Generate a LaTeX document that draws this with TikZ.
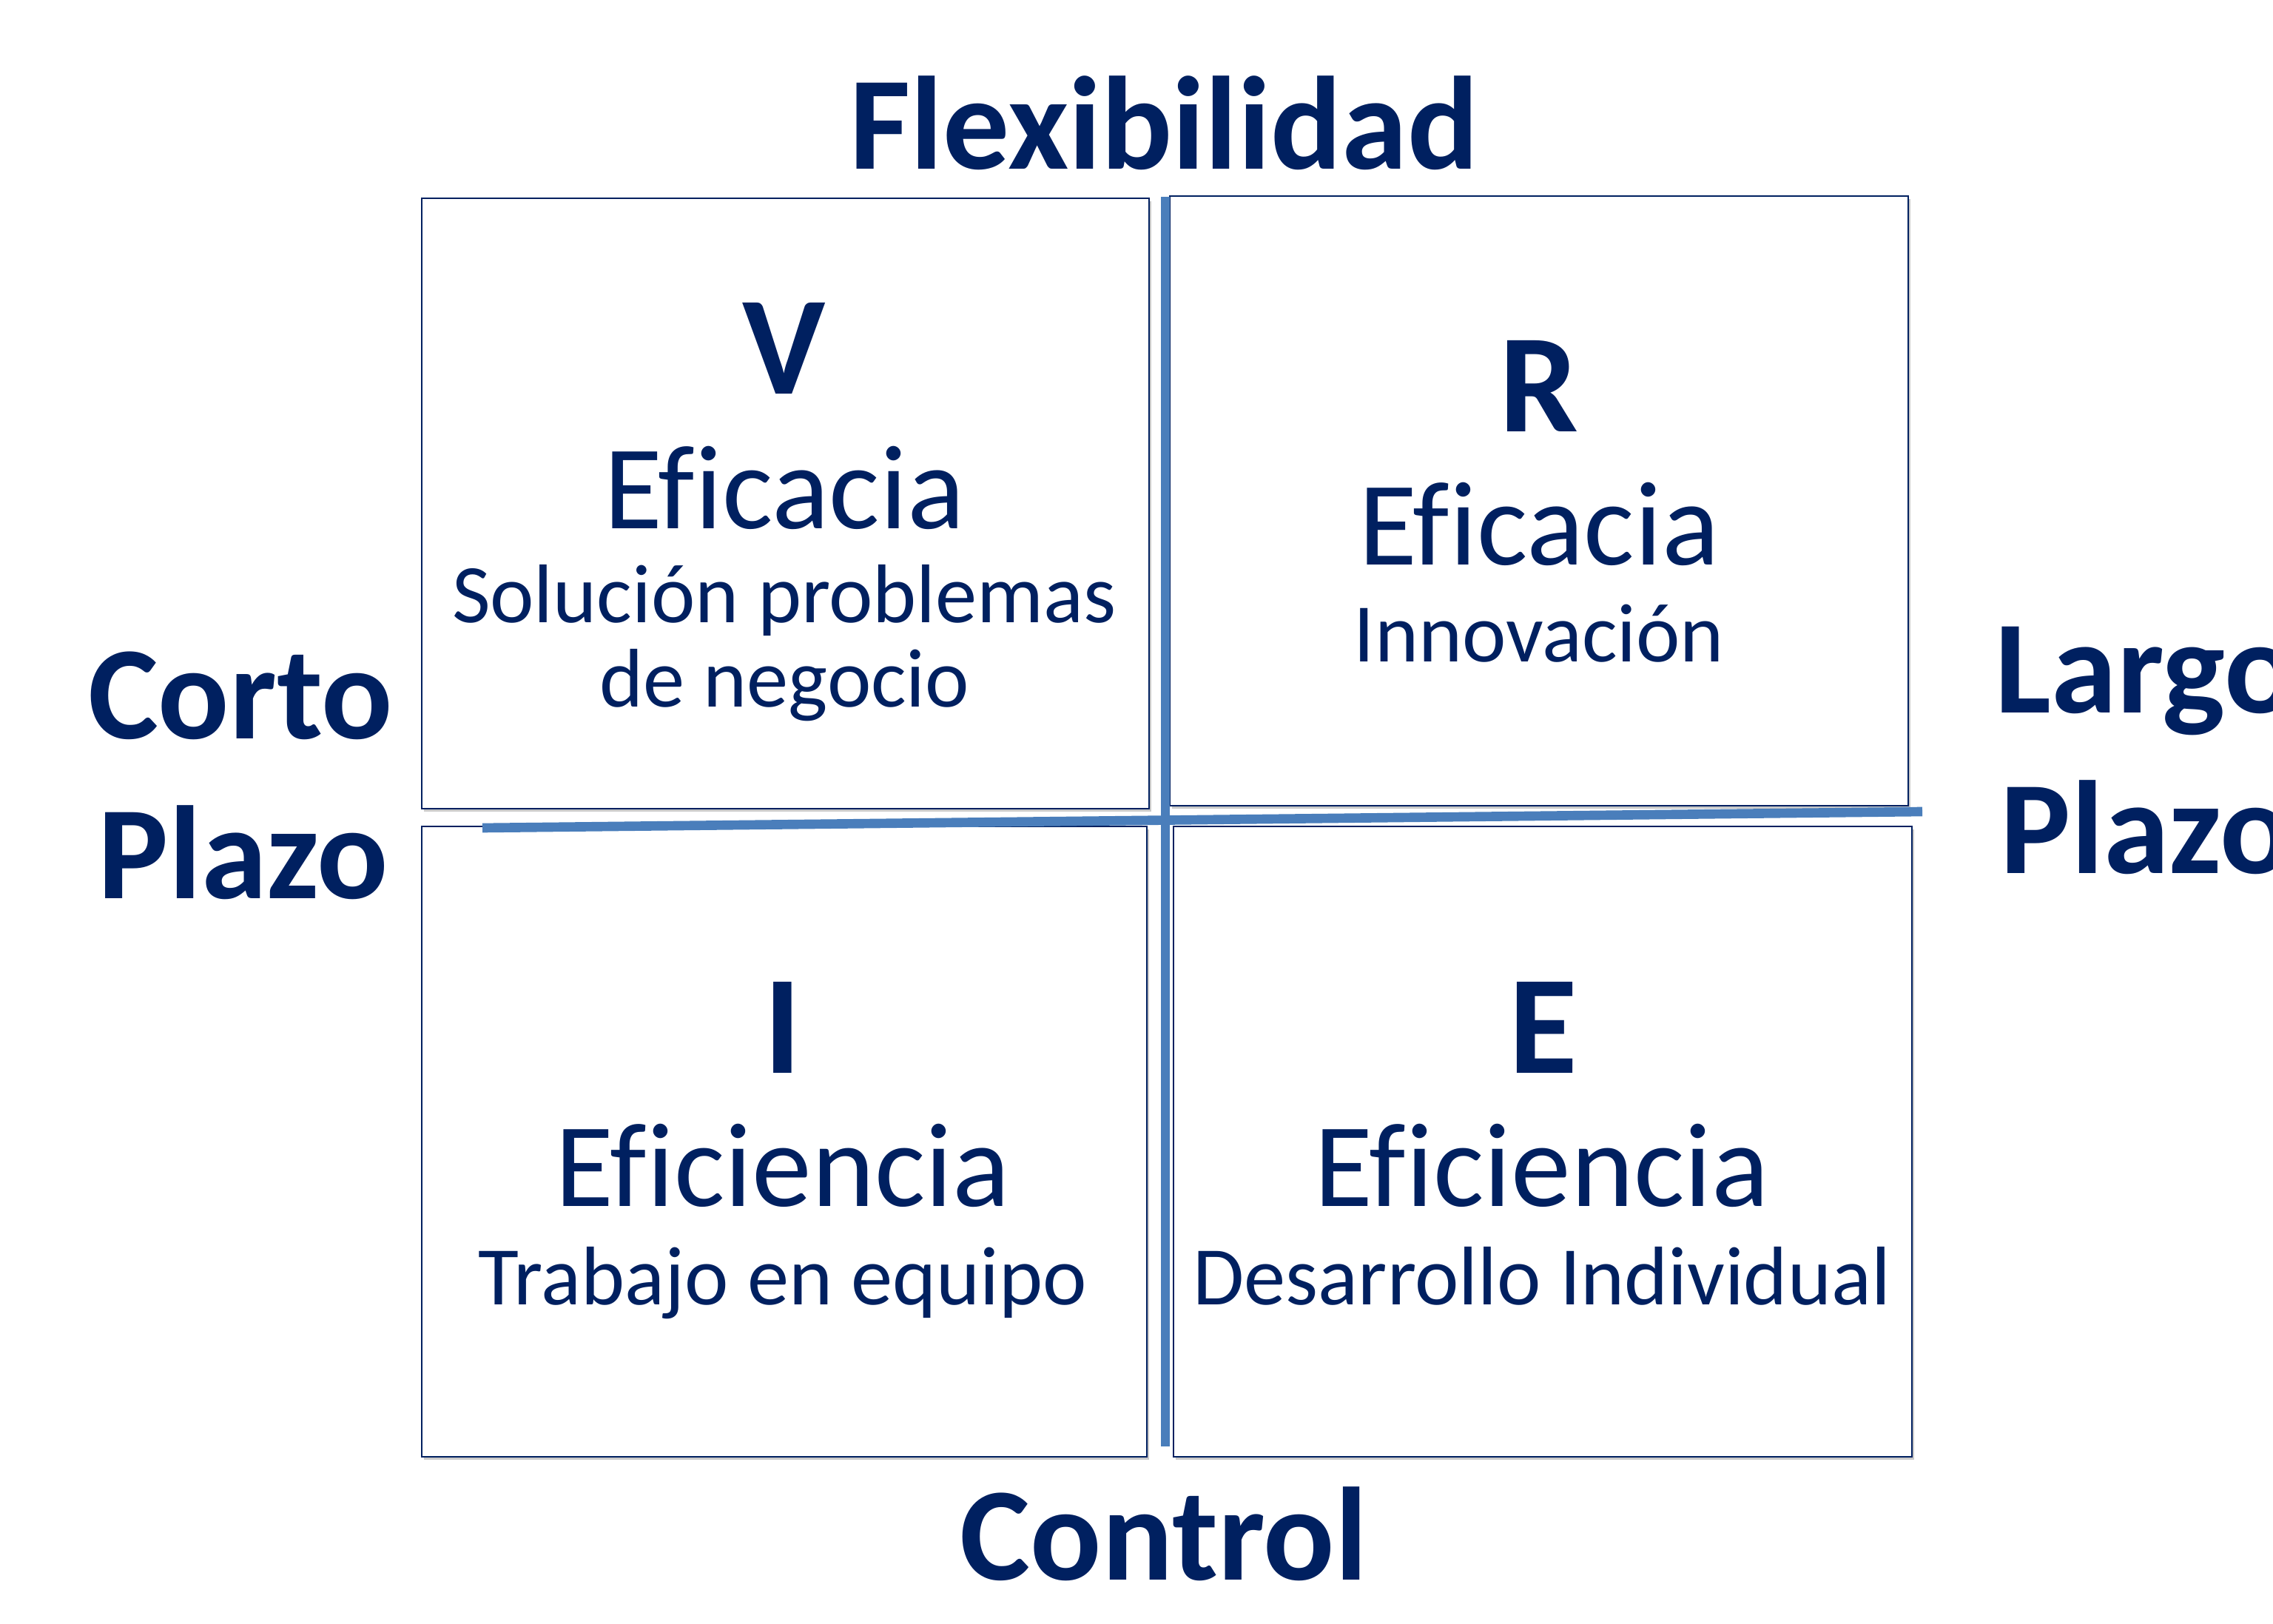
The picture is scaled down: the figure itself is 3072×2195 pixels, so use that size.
\documentclass[tikz,border=0pt]{standalone}
\usepackage{fontspec}
\setmainfont{Carlito}[Ligatures={NoCommon}]
\usetikzlibrary{shadows}
\definecolor{navy}{RGB}{0,32,96}
\definecolor{axisblue}{RGB}{74,126,187}
\begin{document}
\begin{tikzpicture}[x=0.01cm,y=-0.01cm,
  quad/.style={draw=navy, line width=0.5pt, fill=white, rectangle, inner sep=0pt,
    drop shadow={shadow xshift=0.03cm, shadow yshift=-0.04cm, opacity=0.35, fill=black!60}},
  axislabel/.style={font=\fontsize{51}{60}\selectfont\bfseries, text=navy, anchor=base, inner sep=0pt},
  letter/.style={font=\fontsize{54}{60}\selectfont\bfseries, text=navy, anchor=base, inner sep=0pt},
  big/.style={font=\fontsize{46}{55}\selectfont, text=navy, anchor=base, inner sep=0pt},
  small/.style={font=\fontsize{32}{38}\selectfont, text=navy, anchor=base, inner sep=0pt},
  axisline/.style={draw=axisblue, line width=3.6pt}
]
\useasboundingbox (0,0) rectangle (3072,2195);
\clip (0,0) rectangle (3072,2195);
\fill[white] (0,0) rectangle (3072,2195);

% quadrants
\node[quad, minimum width=9.83cm, minimum height=8.25cm] (tl) at (1061.5,680.5) {};
\node[quad, minimum width=9.98cm, minimum height=8.24cm] (tr) at (2080,677) {};
\node[quad, minimum width=9.80cm, minimum height=8.52cm] (bl) at (1060,1543) {};
\node[quad, minimum width=9.98cm, minimum height=8.52cm] (br) at (2085,1543) {};

% axes
\coordinate (vtop) at (1575,266);
\coordinate (vbot) at (1575,1955);
\coordinate (hleft) at (652,1119);
\coordinate (hright) at (2598,1097);
\draw[axisline] (vtop) -- (vbot);
\draw[axisline] (hleft) -- (hright);

% axis labels
\node[axislabel] (flex) at (1573,229) {Flexibilidad};
\node[axislabel] (ctrl) at (1573,2135) {Control};
\node[axislabel] (corto) at (325,999) {Corto};
\node[axislabel] (plazoL) at (329,1215) {Plazo};
\node[axislabel, anchor=base west] (largo) at (2696,964) {Largo};
\node[axislabel, anchor=base west] (plazoR) at (2703,1181) {Plazo};

% top-left
\node[letter] (V) at (1060,533) {V};
\node[big] (tlA) at (1060,715) {Eficacia};
\node[small] (tlB) at (1060,842) {Solución problemas};
\node[small] (tlC) at (1060,956) {de negocio};

% top-right
\node[letter] (R) at (2080,584) {R};
\node[big] (trA) at (2080,764) {Eficacia};
\node[small] (trB) at (2080,895) {Innovación};

% bottom-left
\node[letter] (I) at (1058,1450) {I};
\node[big] (blA) at (1058,1630) {Eficiencia};
\node[small] (blB) at (1058,1763) {Trabajo en equipo};

% bottom-right
\node[letter] (E) at (2086,1450) {E};
\node[big] (brA) at (2084,1630) {Eficiencia};
\node[small] (brB) at (2084,1763) {Desarrollo Individual};
\end{tikzpicture}
\end{document}
